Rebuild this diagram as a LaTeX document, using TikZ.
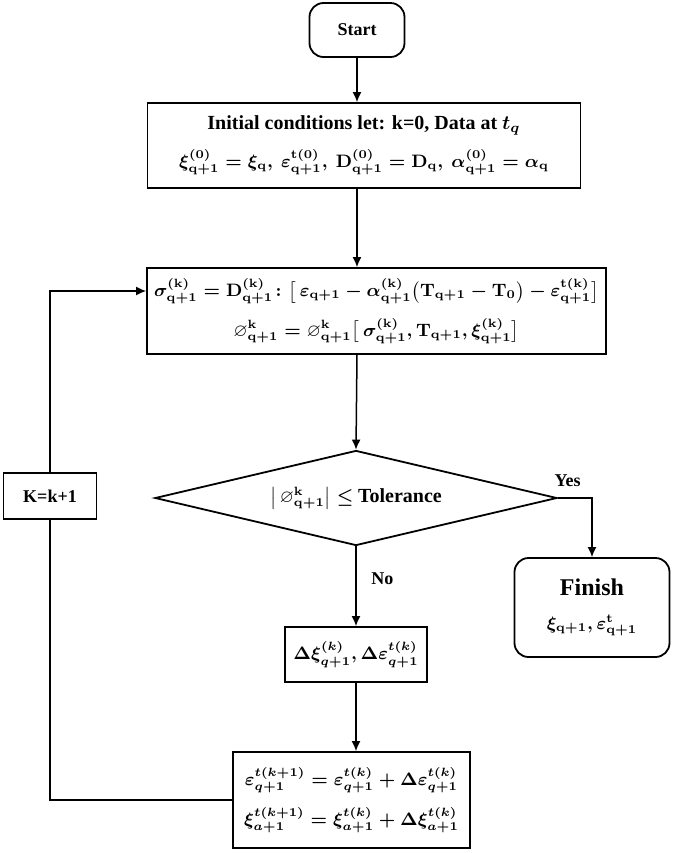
\documentclass[tikz,border=0pt]{standalone}
\usepackage{amsmath,amssymb}
\usepackage{fontspec}
\setmainfont{Liberation Serif}
\usetikzlibrary{shapes.geometric,arrows.meta}
\newcommand\qp{\mathbf{q+1}}
\tikzset{FCbox/.style={draw,line width=0.9pt,inner sep=2pt,align=center,font=\small\bfseries\boldmath},
         FCterm/.style={FCbox,rounded corners=7pt},
         FCdec/.style={FCbox,diamond,aspect=4.2,inner sep=0pt},
         FCarr/.style={line width=0.75pt,-{Latex[length=5pt,width=4.5pt]}},
         FCline/.style={line width=0.75pt},
         FClab/.style={font=\small\bfseries}}

\begin{document}
\begin{tikzpicture}[x=0.5pt,y=-0.5pt]
  \useasboundingbox (0,0) rectangle (677,853);
  \node[FCterm,minimum width=47.5pt,minimum height=27pt] (start) at (357,30) {Start};
  \node[FCbox,minimum width=216.5pt,minimum height=42.5pt] (init) at (364,145.5) {{\normalsize Initial conditions let: k=0, Data at $t_q$}\\[6pt]
    $\xi^{(0)}_{\qp}=\xi_{\mathbf{q}},\ \varepsilon^{\mathbf{t(0)}}_{\qp},\ \mathbf{D}^{(0)}_{\qp}=\mathbf{D}_{\mathbf{q}},\ \alpha^{(0)}_{\qp}=\alpha_{\mathbf{q}}$};
  \node[FCbox,minimum width=229.5pt,minimum height=43pt] (sigma) at (376.5,311) {$\sigma^{(\mathbf{k})}_{\qp}=\mathbf{D}^{(\mathbf{k})}_{\qp}\colon\bigl[\,\varepsilon_{\qp}-\alpha^{(\mathbf{k})}_{\qp}\bigl(\mathbf{T}_{\qp}-\mathbf{T}_0\bigr)-\varepsilon^{\mathbf{t(k)}}_{\qp}\bigr]$\\[6pt]
    $\varnothing^{\mathbf{k}}_{\qp}=\varnothing^{\mathbf{k}}_{\qp}\bigl[\,\sigma^{(\mathbf{k})}_{\qp},\mathbf{T}_{\qp},\xi^{(\mathbf{k})}_{\qp}\bigr]$};
  \node[FCdec,minimum width=201pt,minimum height=47.5pt] (dec) at (356,498) {$\bigl|\,\varnothing^{\mathbf{k}}_{\qp}\bigr|\leq$ {\normalsize Tolerance}};
  \node[FCterm,minimum width=77.5pt,minimum height=49.5pt] (finish) at (592,607.5) {{\large Finish}\\[6pt] $\xi_{\qp},\varepsilon^{\mathbf{t}}_{\qp}$};
  \node[FCbox,minimum width=71pt,minimum height=27.5pt] (delta) at (356,654.5) {$\Delta\xi^{(k)}_{q+1},\Delta\varepsilon^{t(k)}_{q+1}$};
  \node[FCbox,minimum width=118.5pt,minimum height=48pt] (upd) at (351.5,800) {$\varepsilon^{t(k+1)}_{q+1}=\varepsilon^{t(k)}_{q+1}+\Delta\varepsilon^{t(k)}_{q+1}$\\[6pt]
    $\xi^{t(k+1)}_{a+1}=\xi^{t(k)}_{a+1}+\Delta\xi^{t(k)}_{a+1}$};
  \node[FCbox,minimum width=46.5pt,minimum height=23pt] (kbox) at (50,496) {K=k+1};
  \coordinate[yshift=10pt] (loopin) at (sigma.west);
  % main flow
  \draw[FCarr] (start.south) -- (start |- init.north);
  \draw[FCarr] (start |- init.south) -- (start |- sigma.north);
  \draw[FCarr] (start |- sigma.south) -- (dec.north);
  \draw[FCarr] (dec.south) -- (delta.north) node[FClab,pos=0.4,right=4pt] {No};
  \draw[FCarr] (delta.south) -- (delta.south |- upd.north);
  \draw[FCarr] (dec.east) -| (finish.north) node[FClab,pos=0.5,above left=2pt] {Yes};
  % loop back
  \draw[FCline] (upd.west) -| (kbox.south);
  \draw[FCarr] (kbox.north) |- (loopin);
\end{tikzpicture}
\end{document}
